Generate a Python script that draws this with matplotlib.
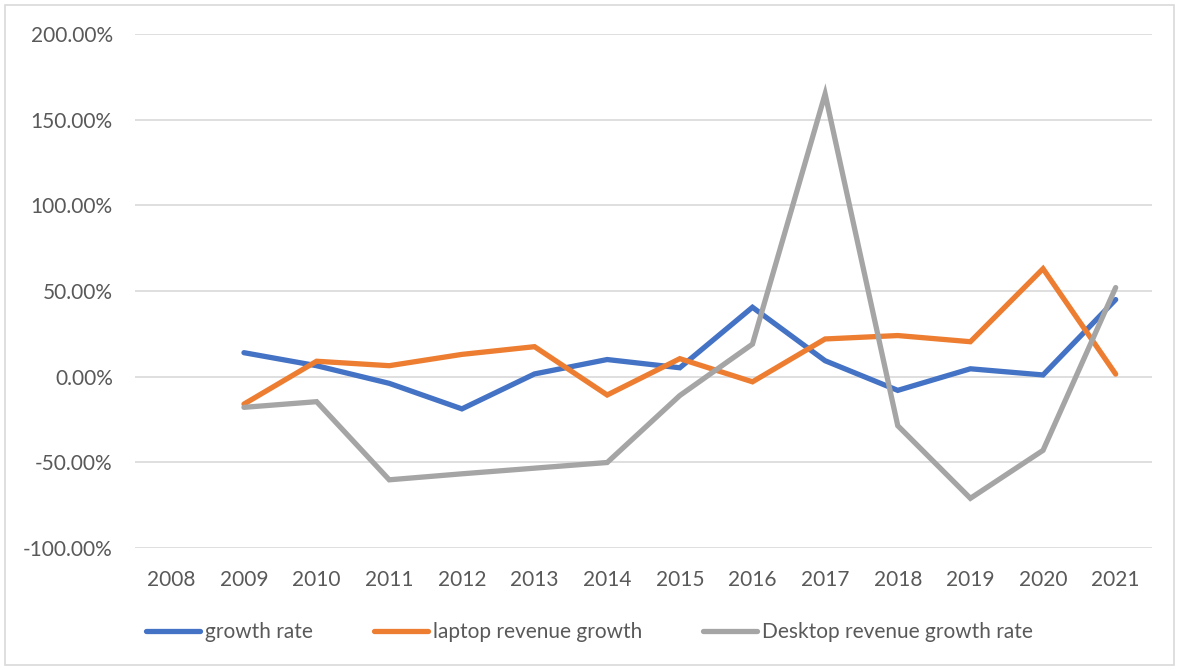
import numpy as np
import matplotlib
matplotlib.use("Agg")
import matplotlib.pyplot as plt
from matplotlib.patches import Rectangle
from matplotlib.ticker import FuncFormatter

years = ["2008", "2009", "2010", "2011", "2012", "2013", "2014", "2015",
         "2016", "2017", "2018", "2019", "2020", "2021"]
growth_rate = [np.nan, 14.0, 6.4, -3.9, -18.8, 1.6, 10.0, 5.2,
               40.5, 9.3, -8.0, 4.6, 1.0, 45.0]
laptop_growth = [np.nan, -16.0, 9.0, 6.4, 13.0, 17.5, -10.7, 10.5,
                 -3.0, 22.0, 24.0, 20.4, 63.0, 1.5]
desktop_growth = [np.nan, -17.9, -14.6, -60.2, -56.7, -53.4, -50.1, -11.0,
                  19.0, 165.0, -28.6, -71.0, -43.0, 52.0]
series_names = ["growth rate", "laptop revenue growth", "Desktop revenue growth rate"]
colors = ["#4472C4", "#ED7D31", "#A5A5A5"]

plt.rcParams['font.family'] = ['Lato', 'DejaVu Sans']
text_color = "#595959"
fs = 15

fig = plt.figure(figsize=(11.79, 6.70), dpi=100)
W, H = 1179, 670
ax = fig.add_axes([135 / W, 1 - 548 / H, (1152 - 135) / W, (548 - 34) / H])

x = np.arange(len(years))
for vals, name, c in zip([growth_rate, laptop_growth, desktop_growth], series_names, colors):
    ax.plot(x, vals, color=c, lw=3.8, label=name, solid_capstyle='round',
            solid_joinstyle='miter', zorder=3)

ax.set_xlim(-0.5, len(years) - 0.5)
ax.set_ylim(-100, 200)
ax.set_yticks(np.arange(-100, 201, 50))
ax.yaxis.set_major_formatter(FuncFormatter(lambda v, p: f"{v:.2f}%"))
ax.set_xticks(x)
ax.set_xticklabels(years)
ax.grid(axis='y', color="#D9D9D9", lw=1.2, zorder=0)
for s in ax.spines.values():
    s.set_visible(False)
ax.tick_params(axis='both', length=0, labelsize=fs, colors=text_color)
ax.tick_params(axis='y', pad=16)
ax.tick_params(axis='x', pad=16)

leg = fig.legend(loc='center', bbox_to_anchor=(0.5, 1 - 632 / H), ncol=3,
                 frameon=False, fontsize=fs, handlelength=2.6, handletextpad=0.25,
                 columnspacing=2.9)
for t in leg.get_texts():
    t.set_color(text_color)

fig.patches.append(Rectangle((5 / W, 5 / H), (W - 10) / W, (H - 10) / H,
                             transform=fig.transFigure, fill=False,
                             edgecolor="#D9D9D9", lw=1.2))

fig.savefig("out.png", dpi=100, facecolor="white")
